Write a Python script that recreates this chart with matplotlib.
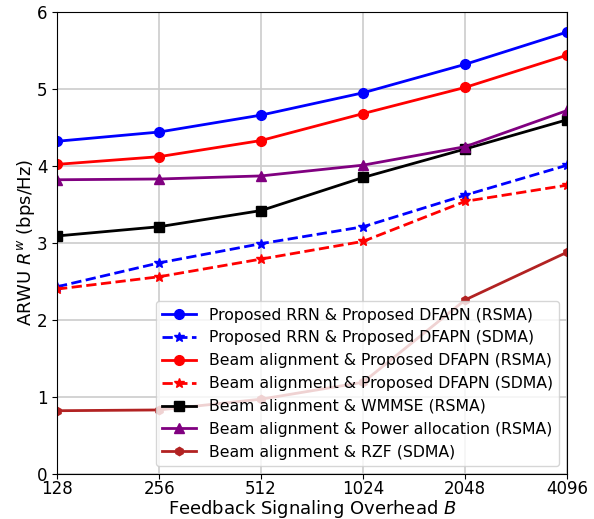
import numpy as np
import matplotlib
matplotlib.use('Agg')
import matplotlib.pyplot as plt

# feedback overhead B
overhead = [128, 256, 512, 1024, 2048, 4096]

rrn_dfapn_rsma = [4.32, 4.44, 4.66, 4.95, 5.32, 5.74]
rrn_dfapn_sdma = [2.43, 2.74, 2.99, 3.21, 3.62, 4.01]
ba_dfapn_rsma = [4.02, 4.12, 4.33, 4.68, 5.02, 5.44]
ba_dfapn_sdma = [2.40, 2.56, 2.79, 3.02, 3.54, 3.75]
ba_wmmse_rsma = [3.09, 3.21, 3.42, 3.85, 4.22, 4.60]
ba_power_rsma = [3.82, 3.83, 3.87, 4.01, 4.25, 4.72]
ba_rzf_sdma = [0.82, 0.83, 0.97, 1.19, 2.26, 2.88]

labels = ['Proposed RRN & Proposed DFAPN (RSMA)',
          'Proposed RRN & Proposed DFAPN (SDMA)',
          'Beam alignment & Proposed DFAPN (RSMA)',
          'Beam alignment & Proposed DFAPN (SDMA)',
          'Beam alignment & WMMSE (RSMA)',
          'Beam alignment & Power allocation (RSMA)',
          'Beam alignment & RZF (SDMA)']

fig, ax = plt.subplots(figsize=(5.94, 5.19), dpi=100)
fig.subplots_adjust(left=0.096, right=0.955, top=0.977, bottom=0.087)

ax.plot(overhead, rrn_dfapn_rsma, 'b-o', lw=2, ms=7, label=labels[0])
ax.plot(overhead, rrn_dfapn_sdma, 'b--*', lw=2, ms=7, label=labels[1])
ax.plot(overhead, ba_dfapn_rsma, 'r-o', lw=2, ms=7, label=labels[2])
ax.plot(overhead, ba_dfapn_sdma, 'r--*', lw=2, ms=7, label=labels[3])
ax.plot(overhead, ba_wmmse_rsma, 'k-s', lw=2, ms=7, label=labels[4])
ax.plot(overhead, ba_power_rsma, '-^', color='purple', lw=2, ms=7, label=labels[5])
ax.plot(overhead, ba_rzf_sdma, '-h', color='#b22222', lw=2, ms=6, label=labels[6])

ax.set_xscale('log', base=2)
ax.set_xticks(overhead)
ax.set_xticklabels([str(b) for b in overhead], fontsize=12)
ax.minorticks_off()
ax.set_xlim(128, 4096)
ax.set_ylim(0, 6)
ax.set_yticks(range(7))
ax.tick_params(axis='y', labelsize=12)
ax.tick_params(axis='x', pad=1)
ax.grid(True, color='#cccccc', lw=1.2)

ax.set_xlabel('Feedback Signaling Overhead $B$', fontsize=13, labelpad=0)
ax.set_ylabel('ARWU $R^w$ (bps/Hz)', fontsize=13, labelpad=0)
ax.legend(loc='lower right', fontsize=11.3, handlelength=2.2, borderaxespad=0.5)

fig.savefig('out.png', dpi=100)
